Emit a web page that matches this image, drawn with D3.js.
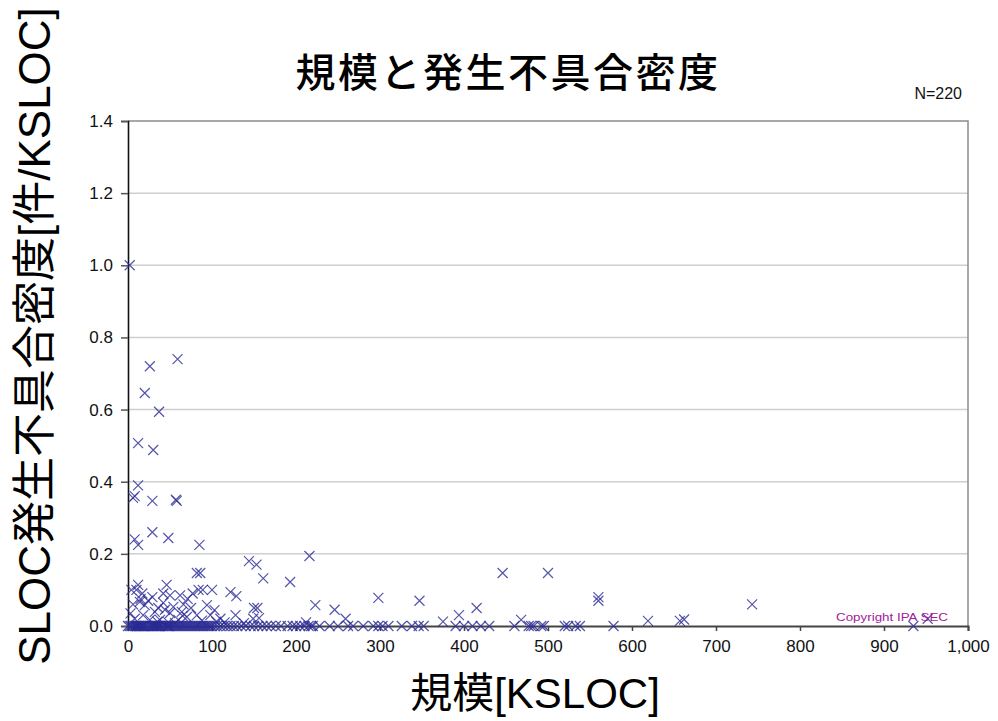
<!DOCTYPE html>
<html lang="ja">
<head>
<meta charset="utf-8">
<script src="https://cdn.jsdelivr.net/npm/d3@7/dist/d3.min.js"></script>
<style>
  html, body { margin: 0; padding: 0; background: #fff; }
  svg { display: block; }
</style>
</head>
<body>
<svg id="chart" width="998" height="721"></svg>
<script>
// Projects with reported defects: size (KSLOC) and defect density per KSLOC
const sizeKsloc = [
  2, 26, 59, 20, 37, 12, 30, 12, 8, 6, 29, 58, 57, 8, 12, 29, 48, 85,
  144, 153, 161, 193, 216, 223, 246, 259, 298, 347, 375, 394, 415, 446, 500,
  560, 560, 468, 619, 657, 662, 743, 952, 935, 150, 149, 154, 156, 122, 129,
  89, 100, 12, 46, 17, 42, 29, 71, 50, 62, 14, 20, 42, 54, 32, 50, 64, 77,
  82, 26, 70, 60, 38, 86, 84, 94, 103, 98, 82, 88, 10, 15, 24, 36, 44, 66,
  75, 8, 18, 110, 115, 56, 48, 4, 6, 3, 65, 35, 105, 138, 212, 128
];
const defectDensity = [
  1.0, 0.72, 0.74, 0.646, 0.594, 0.507, 0.488, 0.39, 0.36, 0.355, 0.347, 0.347, 0.35, 0.24, 0.225, 0.26, 0.244, 0.225,
  0.18, 0.17, 0.132, 0.122, 0.194, 0.058, 0.045, 0.02, 0.078, 0.07, 0.012, 0.03, 0.05, 0.147, 0.147,
  0.08, 0.07, 0.017, 0.014, 0.014, 0.018, 0.06, 0.02, 0.0, 0.05, 0.02, 0.05, 0.022, 0.094, 0.083,
  0.1, 0.1, 0.114, 0.114, 0.09, 0.09, 0.08, 0.075, 0.085, 0.085, 0.067, 0.058, 0.064, 0.053, 0.039, 0.036, 0.039, 0.09,
  0.147, 0.017, 0.025, 0.017, 0.017, 0.147, 0.1, 0.058, 0.044, 0.03, 0.03, 0.015, 0.1, 0.075, 0.07, 0.05, 0.045, 0.06,
  0.05, 0.02, 0.03, 0.02, 0.01, 0.008, 0.01, 0.1, 0.06, 0.035, 0.028, 0.012, 0.012, 0.008, 0.01, 0.03
];
// Projects with a density of 0.0: size (KSLOC) only
const zeroDefectSizes = [
  0, 2, 4, 6, 8, 9, 10, 11, 12, 13, 14, 15, 16, 17, 18, 19,
  20, 22, 24, 26, 28, 29, 30, 31, 32, 33, 34, 35, 36, 37,
  38, 40, 42, 44, 46, 47, 48, 49, 50, 52, 54, 56, 58, 60,
  62, 64, 66, 68, 70, 72, 74, 76, 78, 80, 82, 84, 86, 88, 90, 92, 94, 96,
  98, 100, 103, 106, 110, 114, 118, 122, 126, 130, 135, 140, 146, 150, 155,
  160, 165, 170, 176, 182, 190, 196, 200, 205, 210, 215, 218, 220, 228, 240,
  250, 262, 268, 280, 292, 298, 303, 310, 326, 338, 346, 352, 390, 400, 410,
  420, 430, 460, 477, 480, 483, 492, 495, 520, 524, 533, 538, 578
];
const xTickValues = [0, 100, 200, 300, 400, 500, 600, 700, 800, 900, 1000];
const yTickValues = [0, 0.2, 0.4, 0.6, 0.8, 1.0, 1.2, 1.4];
const chartTitle = "規模と発生不具合密度";
const sampleNote = "N=220";
const copyrightNote = "Copyright IPA SEC";

const points = sizeKsloc.map((s, i) => ({ s, d: defectDensity[i] }))
  .concat(zeroDefectSizes.map(s => ({ s, d: 0 })));

const svg = d3.select("#chart");
const plotLeft = 128, plotRight = 968, plotTop = 121, plotBottom = 626;

const x = d3.scaleLinear().domain([0, 1000]).range([plotLeft, plotRight]);
const y = d3.scaleLinear().domain([0, 1.4]).range([plotBottom, plotTop]);

const latin = "'Liberation Sans', Arial, sans-serif";
const cjk = "'Noto Sans CJK JP', sans-serif";

// horizontal grid lines
svg.append("g")
  .selectAll("line")
  .data(yTickValues.filter(v => v > 0 && v < 1.4))
  .join("line")
  .attr("x1", plotLeft).attr("x2", plotRight)
  .attr("y1", d => y(d)).attr("y2", d => y(d))
  .attr("stroke", "#cfcfcf").attr("stroke-width", 1.5);

// plot frame (top and right)
svg.append("path")
  .attr("d", `M${plotLeft},${y(1.4)}H${plotRight}V${plotBottom}`)
  .attr("fill", "none").attr("stroke", "#8c8c8c").attr("stroke-width", 1.5);

// y axis
const yAxis = svg.append("g")
  .attr("transform", `translate(${plotLeft},0)`)
  .call(d3.axisLeft(y).tickValues(yTickValues).tickFormat(d3.format(".1f")).tickSize(7).tickPadding(8));
yAxis.select(".domain").attr("stroke", "#111").attr("stroke-width", 1.6);
yAxis.selectAll(".tick line").attr("stroke", "#555").attr("stroke-width", 1.5);
yAxis.selectAll("text").attr("font-family", latin).attr("font-size", 17).attr("fill", "#111");

// x axis
const xAxis = svg.append("g")
  .attr("transform", `translate(0,${plotBottom})`)
  .call(d3.axisBottom(x).tickValues(xTickValues).tickFormat(d3.format(",")).tickSize(5).tickPadding(9));
xAxis.select(".domain").attr("stroke", "#444").attr("stroke-width", 2);
xAxis.selectAll(".tick line").attr("stroke", "#444").attr("stroke-width", 1.5);
xAxis.selectAll("text").attr("font-family", latin).attr("font-size", 17).attr("fill", "#111");

// markers
const r = 5;
svg.append("g")
  .selectAll("path")
  .data(points)
  .join("path")
  .attr("transform", d => `translate(${x(d.s)},${y(d.d)})`)
  .attr("d", `M${-r},${-r}L${r},${r}M${-r},${r}L${r},${-r}`)
  .attr("fill", "none")
  .attr("stroke", "#2b2b95")
  .attr("stroke-opacity", 0.8)
  .attr("stroke-width", 1.2);

// title
svg.append("text")
  .attr("x", 508).attr("y", 87)
  .attr("text-anchor", "middle")
  .attr("font-family", cjk).attr("font-size", 40).attr("font-weight", 500)
  .attr("letter-spacing", 2.5)
  .attr("fill", "#000")
  .text(chartTitle);

svg.append("text")
  .attr("x", 962).attr("y", 99)
  .attr("text-anchor", "end")
  .attr("font-family", latin).attr("font-size", 16)
  .attr("fill", "#111")
  .text(sampleNote);

svg.append("text")
  .attr("x", 836).attr("y", 621)
  .attr("font-family", latin).attr("font-size", 11)
  .attr("textLength", 112).attr("lengthAdjust", "spacingAndGlyphs")
  .attr("fill", "#a0209a")
  .text(copyrightNote);

// axis titles
function mixedText(sel, parts) {
  parts.forEach(([t, isCjk]) => {
    sel.append("tspan").attr("font-family", isCjk ? cjk : latin).text(t);
  });
}

const xt = svg.append("text")
  .attr("x", 535).attr("y", 708)
  .attr("text-anchor", "middle")
  .attr("font-size", 42).attr("fill", "#000");
mixedText(xt, [["規模", true], ["[KSLOC]", false]]);

const yt = svg.append("text")
  .attr("transform", "translate(50,336) rotate(-90)")
  .attr("text-anchor", "middle")
  .attr("font-size", 44).attr("fill", "#000");
mixedText(yt, [["SLOC", false], ["発生不具合密度", true], ["[", false], ["件", true], ["/KSLOC]", false]]);
</script>
</body>
</html>
